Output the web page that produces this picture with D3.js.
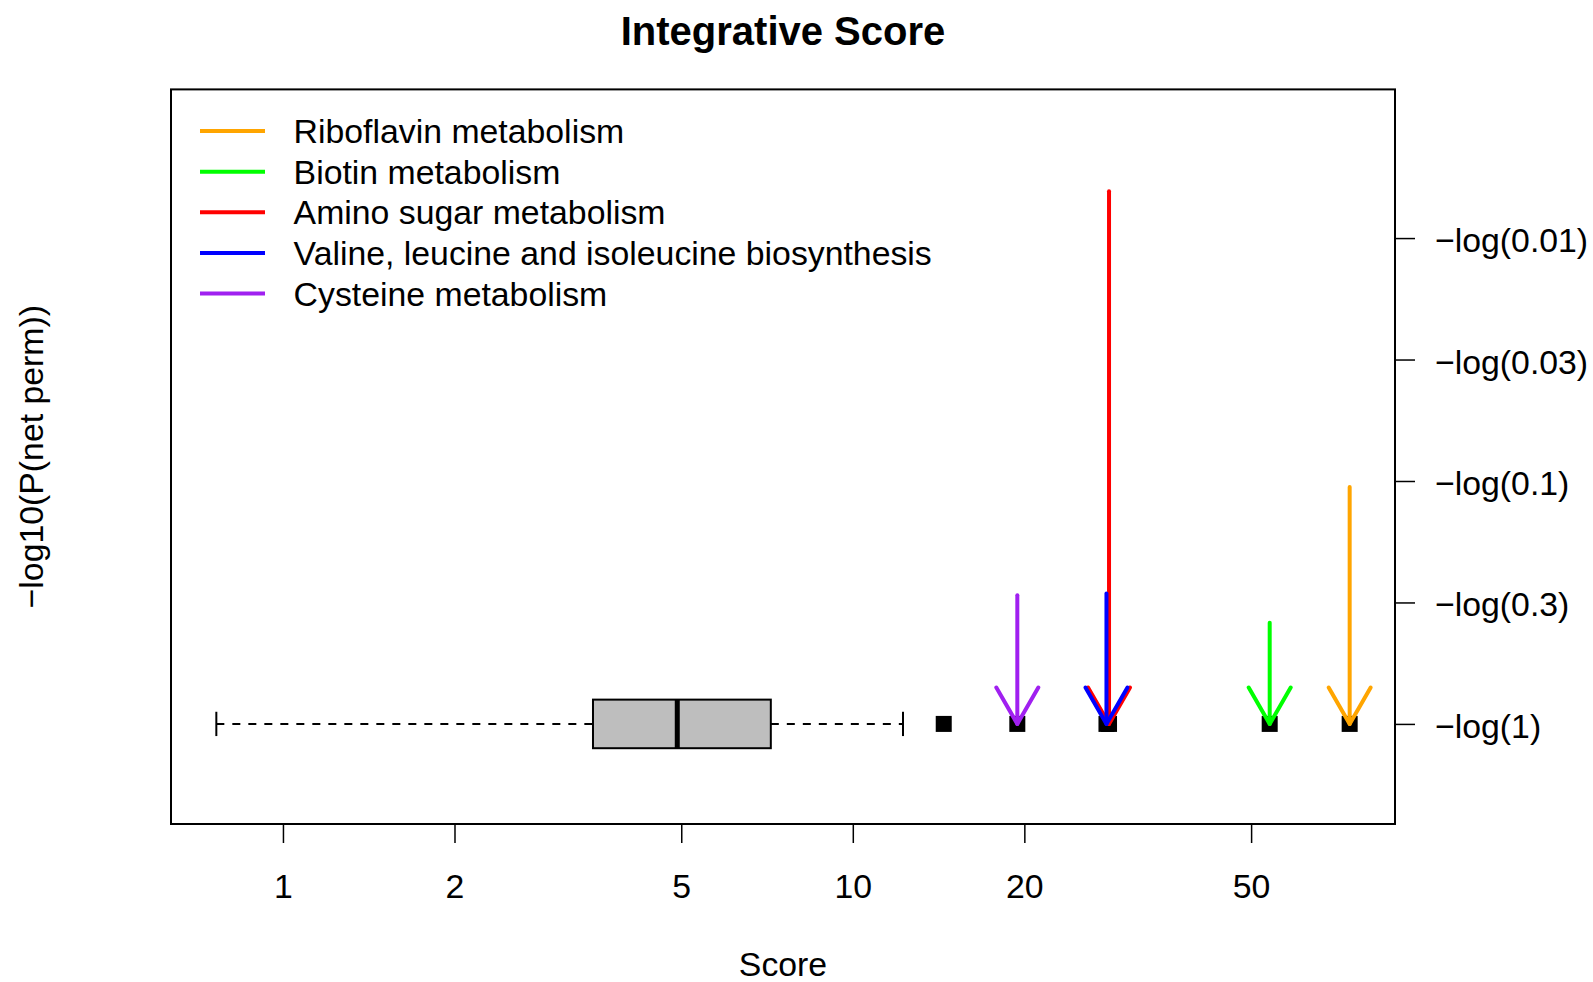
<!DOCTYPE html>
<html>
<head>
<meta charset="utf-8">
<script src="https://cdn.jsdelivr.net/npm/d3@7"></script>
<style>
  html, body { margin: 0; padding: 0; background: #fff; }
  svg { display: block; font-family: "Liberation Sans", Arial, Helvetica, sans-serif; }
</style>
</head>
<body>
<svg id="chart" width="1593" height="982"></svg>
<script>
// Boxplot summary of the null score distribution
const whiskerLow = 0.764;
const quartile1 = 3.50;
const medianScore = 4.92;
const quartile3 = 7.18;
const whiskerHigh = 12.25;
const outlierScores = [14.44, 19.44, 27.87, 28.16, 53.9, 74.46];

// Highlighted pathways: observed score and -log10(P(net perm))
const pathways = ["Riboflavin metabolism", "Biotin metabolism", "Amino sugar metabolism",
                  "Valine, leucine and isoleucine biosynthesis", "Cysteine metabolism"];
const pathwayScores = [74.46, 53.9, 28.16, 27.87, 19.44];
const pathwayNetLogP = [0.975, 0.416, 2.193, 0.537, 0.530];
const pathwayColors = ["#FFA500", "#00FF00", "#FF0000", "#0000FF", "#A020F0"];

// Axis ticks
const xTicks = [1, 2, 5, 10, 20, 50];
const yTickValues = [0, 0.5, 1, 1.5, 2];
const yTickLabels = ["\u2212log(1)", "\u2212log(0.3)", "\u2212log(0.1)", "\u2212log(0.03)", "\u2212log(0.01)"];
const yLimits = [-0.3, 2.5];

const svg = d3.select("#chart");
const plot = { left: 171, right: 1395, top: 89.4, bottom: 824 };
const fontSize = 33.8;

// x: log scale spanning the data with 4% padding on each side (log space)
const lo = Math.log10(whiskerLow), hi = Math.log10(d3.max(outlierScores));
const padX = (hi - lo) * 0.04;
const x = d3.scaleLog()
  .domain([Math.pow(10, lo - padX), Math.pow(10, hi + padX)])
  .range([plot.left, plot.right]);

const padY = (yLimits[1] - yLimits[0]) * 0.04;
const y = d3.scaleLinear()
  .domain([yLimits[0] - padY, yLimits[1] + padY])
  .range([plot.bottom, plot.top]);

// Title
svg.append("text")
  .attr("x", (plot.left + plot.right) / 2).attr("y", 30.5)
  .attr("text-anchor", "middle").attr("dominant-baseline", "central")
  .attr("font-size", 40).attr("font-weight", "bold")
  .text("Integrative Score");

// Bottom axis
const xAxis = svg.append("g")
  .attr("transform", `translate(0,${plot.bottom})`)
  .call(d3.axisBottom(x).tickValues(xTicks).tickFormat(d3.format("d")).tickSize(19).tickPadding(31));
xAxis.select(".domain").remove();
xAxis.selectAll(".tick line").attr("stroke", "#000").attr("stroke-width", 1.5);
xAxis.selectAll(".tick text").attr("font-size", fontSize).attr("fill", "#000")
  .attr("font-family", "Liberation Sans, Arial, sans-serif");

// Right axis
const yAxis = svg.append("g")
  .attr("transform", `translate(${plot.right},0)`)
  .call(d3.axisRight(y).tickValues(yTickValues)
    .tickFormat((d, i) => yTickLabels[i]).tickSize(20).tickPadding(20));
yAxis.select(".domain").remove();
yAxis.selectAll(".tick line").attr("stroke", "#000").attr("stroke-width", 1.5);
yAxis.selectAll(".tick text").attr("font-size", fontSize).attr("fill", "#000")
  .attr("font-family", "Liberation Sans, Arial, sans-serif")
  .attr("dy", "0.4em");

// Axis titles
svg.append("text")
  .attr("x", (plot.left + plot.right) / 2).attr("y", 964)
  .attr("text-anchor", "middle").attr("dominant-baseline", "central")
  .attr("font-size", fontSize).text("Score");
svg.append("text")
  .attr("transform", `translate(30.5,${(plot.top + plot.bottom) / 2}) rotate(-90)`)
  .attr("text-anchor", "middle").attr("dominant-baseline", "central")
  .attr("font-size", fontSize).text("\u2212log10(P(net perm))");

// Boxplot (horizontal), centred at y = 0
const boxHalf = 0.1;
const yc = y(0);
const g = svg.append("g");
const whisk = [[whiskerLow, quartile1], [quartile3, whiskerHigh]];
g.selectAll("line.whisker").data(whisk).join("line")
  .attr("x1", d => x(d[0])).attr("x2", d => x(d[1]))
  .attr("y1", yc).attr("y2", yc)
  .attr("stroke", "#000").attr("stroke-width", 2).attr("stroke-dasharray", "8,8");
g.selectAll("line.staple").data([whiskerLow, whiskerHigh]).join("line")
  .attr("x1", d => x(d)).attr("x2", d => x(d))
  .attr("y1", y(boxHalf / 2)).attr("y2", y(-boxHalf / 2))
  .attr("stroke", "#000").attr("stroke-width", 2);
g.append("rect")
  .attr("x", x(quartile1)).attr("width", x(quartile3) - x(quartile1))
  .attr("y", y(boxHalf)).attr("height", y(-boxHalf) - y(boxHalf))
  .attr("fill", "#BEBEBE").attr("stroke", "#000").attr("stroke-width", 2);
g.append("line")
  .attr("x1", x(medianScore)).attr("x2", x(medianScore))
  .attr("y1", y(boxHalf)).attr("y2", y(-boxHalf))
  .attr("stroke", "#000").attr("stroke-width", 5);
const sq = 16;
g.selectAll("rect.outlier").data(outlierScores).join("rect")
  .attr("x", d => x(d) - sq / 2).attr("y", yc - sq / 2)
  .attr("width", sq).attr("height", sq).attr("fill", "#000");

// Arrows from each pathway's significance down to its score
const headLen = 42, headAng = Math.PI / 6;
const arrows = svg.append("g").attr("fill", "none").attr("stroke-width", 4).attr("stroke-linecap", "round");
pathways.forEach((name, i) => {
  const ax = x(pathwayScores[i]);
  const top = y(pathwayNetLogP[i]);
  const col = pathwayColors[i];
  arrows.append("line")
    .attr("x1", ax).attr("x2", ax).attr("y1", top).attr("y2", yc)
    .attr("stroke", col);
  const dx = headLen * Math.sin(headAng), dy = headLen * Math.cos(headAng);
  arrows.append("path")
    .attr("d", `M${ax - dx},${yc - dy}L${ax},${yc}L${ax + dx},${yc - dy}`)
    .attr("stroke", col).attr("stroke-linejoin", "round");
});

// Plot frame
svg.append("rect")
  .attr("x", plot.left).attr("y", plot.top)
  .attr("width", plot.right - plot.left).attr("height", plot.bottom - plot.top)
  .attr("fill", "none").attr("stroke", "#000").attr("stroke-width", 2);

// Legend
const legend = svg.append("g");
const legTop = 131, legStep = 40.65;
pathways.forEach((name, i) => {
  const ly = legTop + i * legStep;
  legend.append("line")
    .attr("x1", 200).attr("x2", 265).attr("y1", ly).attr("y2", ly)
    .attr("stroke", pathwayColors[i]).attr("stroke-width", 4);
  legend.append("text")
    .attr("x", 293.6).attr("y", ly)
    .attr("dominant-baseline", "central").attr("font-size", fontSize)
    .text(name);
});
</script>
</body>
</html>
